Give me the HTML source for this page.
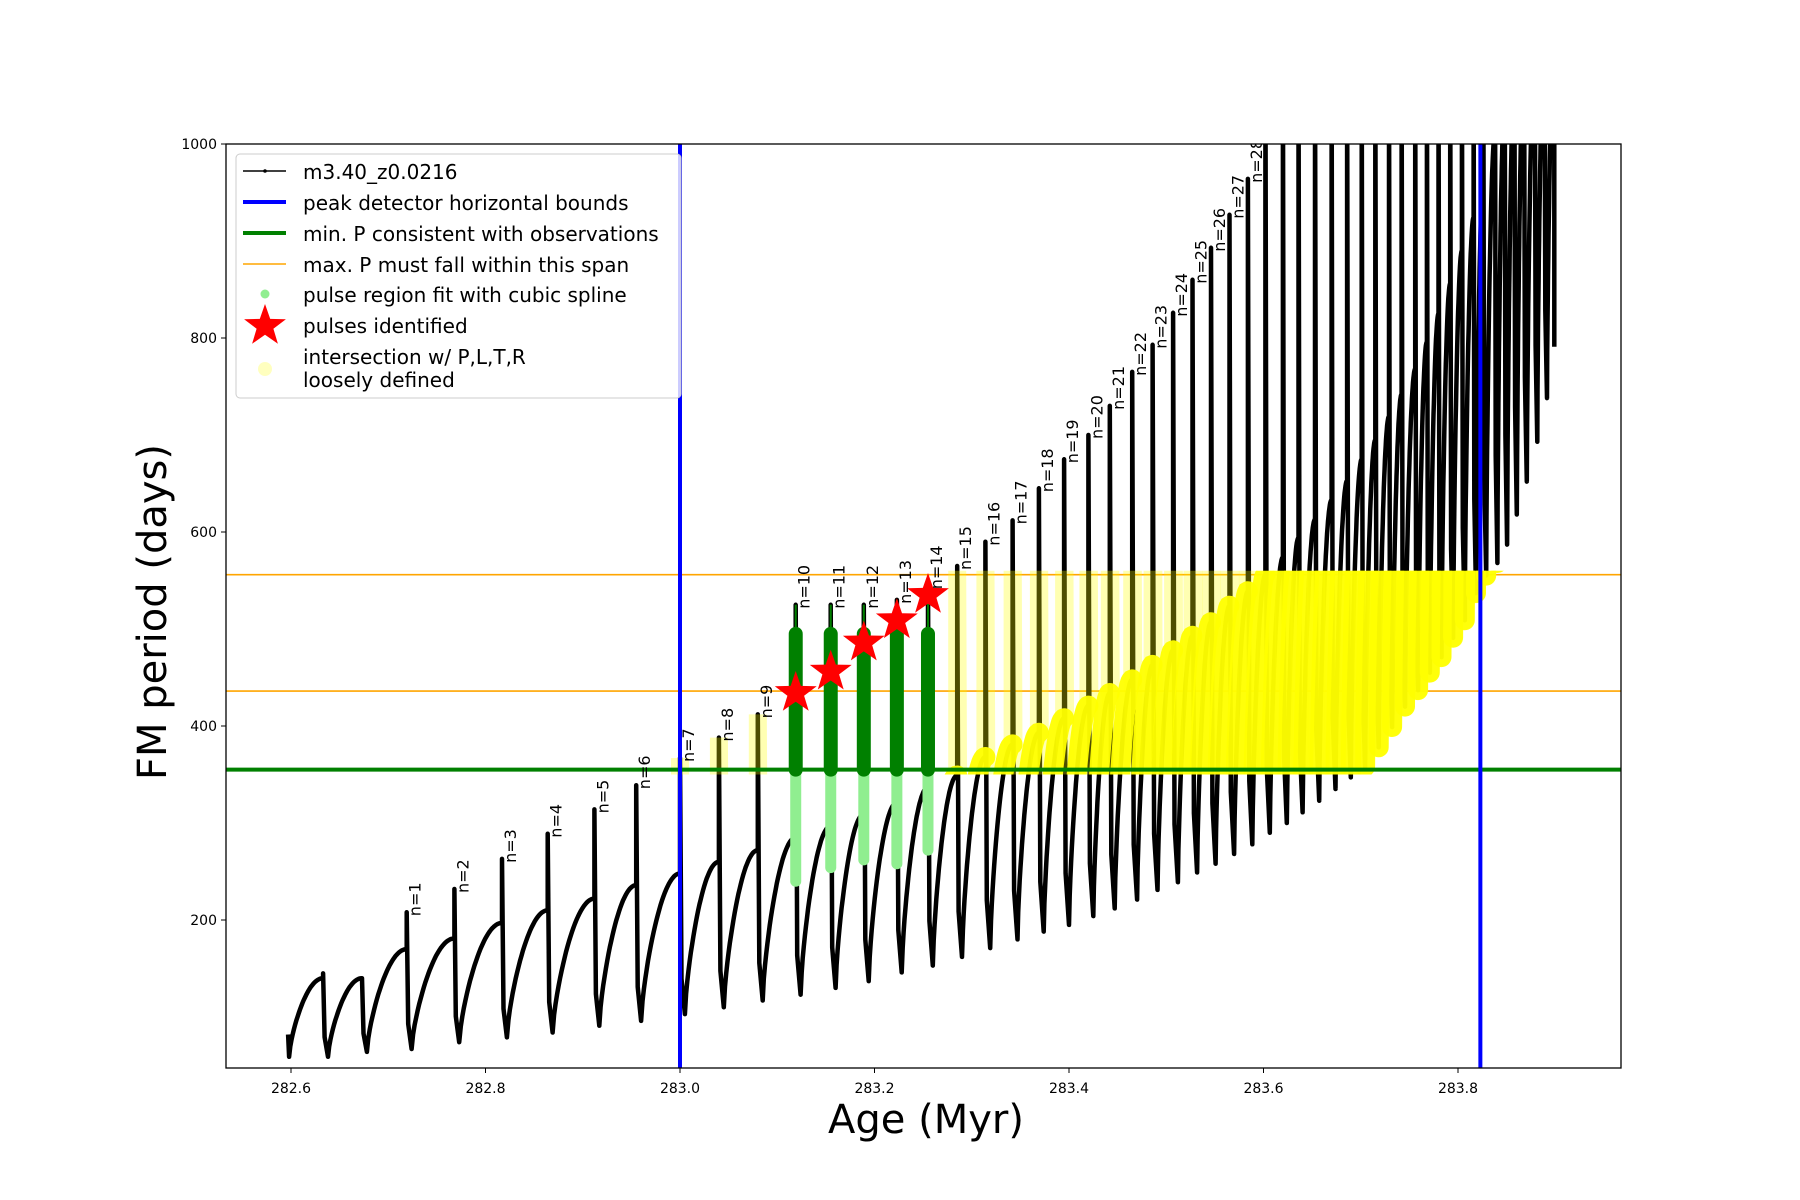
<!DOCTYPE html>
<html><head><meta charset="utf-8"><style>
html,body{margin:0;padding:0;background:#fff;}
svg{display:block;font-family:"DejaVu Sans","Liberation Sans",sans-serif;}
</style></head><body>
<svg id="chart" width="1800" height="1200" viewBox="0 0 1800 1200" xmlns="http://www.w3.org/2000/svg">
<defs>
<clipPath id="plotClip"><rect x="226" y="144" width="1395" height="924"/></clipPath>
<clipPath id="bandClip"><rect x="226" y="0" width="1395" height="1"/></clipPath>
</defs>
<rect x="0" y="0" width="1800" height="1200" fill="#fff"/>
<g id="plot" clip-path="url(#plotClip)"></g>
<rect x="226" y="144" width="1395" height="924" fill="none" stroke="#000" stroke-width="1.3"/>
<g id="ticks"></g>
<text x="926" y="1133" font-size="40" text-anchor="middle">Age (Myr)</text>
<text x="0" y="0" font-size="40" text-anchor="middle" transform="translate(166,612) rotate(-90)">FM period (days)</text>
<g id="legend">
<rect x="236" y="154" width="445" height="244" rx="4" fill="rgba(255,255,255,0.8)" stroke="#ccc" stroke-width="1"/>
<g><line x1="243" y1="171" x2="286" y2="171" stroke="#000" stroke-width="1.5"/><circle cx="265" cy="171" r="1.8" fill="#000"/><text x="303" y="179" font-size="20">m3.40_z0.0216</text></g>
<g><line x1="243" y1="202" x2="286" y2="202" stroke="#0000ff" stroke-width="4"/><text x="303" y="210" font-size="20">peak detector horizontal bounds</text></g>
<g><line x1="243" y1="233" x2="286" y2="233" stroke="#008000" stroke-width="4"/><text x="303" y="241" font-size="20">min. P consistent with observations</text></g>
<g><line x1="243" y1="264" x2="286" y2="264" stroke="#ffa500" stroke-width="1.5"/><text x="303" y="272" font-size="20">max. P must fall within this span</text></g>
<g><circle cx="265" cy="294" r="4.5" fill="#90ee90"/><text x="303" y="302" font-size="20">pulse region fit with cubic spline</text></g>
<g><polygon id="legStar" fill="#ff0000"/><text x="303" y="333" font-size="20">pulses identified</text></g>
<g><circle cx="265" cy="369" r="7" fill="#ffff00" opacity="0.25"/><text x="303" y="364" font-size="20">intersection w/ P,L,T,R</text><text x="303" y="387" font-size="20">loosely defined</text></g>
</g>
</svg>
<script>
// ---- data ----
const pulseAges = [282.633,282.673,282.719,282.768,282.817,282.864,282.912,282.955,283.000,283.040,283.080,283.119,283.155,283.189,283.223,283.255,283.285,283.314,283.342,283.369,283.395,283.420,283.442,283.465,283.486,283.507,283.527,283.546,283.565,283.584,283.602,283.620,283.636,283.653,283.670,283.686,283.701,283.715,283.729,283.742,283.756,283.768,283.780,283.792,283.804,283.816,283.826,283.838,283.848,283.858,283.868,283.879,283.889,283.899];
const arcTops = [140,140,170,181,197,210,222,236,248,260,272,285,297,309,321,337,349,368,381,393,408,421,434,448,463,478,493,507,524,539,556,574,594,613,633,653,675,695,719,742,768,796,825,856,890,924,962,1010,1040,1060,1080,1090,1100,1100];
const spikeTops = [145,140,208,232,263,289,314,339,367,388,412,525,525,525,530,545,565,590,612,645,675,700,730,765,793,826,860,893,927,964,1100,1100,1100,1100,1100,1100,1100,1100,1100,1100,1100,1100,1100,1100,1100,1100,1100,1100,1100,1100,1100,1100,1100,1100];
const troughs = [59,64,67,74,79,84,91,96,103,110,117,123,130,137,146,153,162,171,180,188,195,204,212,221,231,239,249,258,268,278,290,300,311,323,335,347,358,378,399,420,437,455,471,491,509,537,555,568,587,618,652,693,738,791];
const pulseLabels = ["","","n=1","n=2","n=3","n=4","n=5","n=6","n=7","n=8","n=9","n=10","n=11","n=12","n=13","n=14","n=15","n=16","n=17","n=18","n=19","n=20","n=21","n=22","n=23","n=24","n=25","n=26","n=27","n=28"];
const startAge = 282.597, startVals = [82, 59];
const starAges = [283.119,283.155,283.189,283.223,283.255];
const starValues = [434,456,486,509,535];
const greenLow = [240,254,262,258,272];
const greenTop = 495;
const minP = 355;
const maxPSpan = [436,556];
const boundAges = [283.000,283.823];
const xTicks = [282.6,282.8,283.0,283.2,283.4,283.6,283.8];
const xTickLabels = ["282.6","282.8","283.0","283.2","283.4","283.6","283.8"];
const yTicks = [200,400,600,800,1000];
const yTickLabels = ["200","400","600","800","1000"];

// ---- scales ----
const X = a => 291 + (a - 282.6) * 972.5;
const Y = v => 144 + (1000 - v) * 0.97;
const NS = "http://www.w3.org/2000/svg";
const plot = document.getElementById('plot');
const ticks = document.getElementById('ticks');
function mk(tag, attrs, parent){ const e=document.createElementNS(NS,tag); for(const k in attrs) e.setAttribute(k,attrs[k]); parent.appendChild(e); return e; }
function starPts(cx,cy,R){ const r=R*0.4; let p=[]; for(let i=0;i<10;i++){const ang=-Math.PI/2+i*Math.PI/5; const rr=i%2?r:R; p.push((cx+rr*Math.cos(ang)).toFixed(1)+','+(cy+rr*Math.sin(ang)).toFixed(1));} return p.join(' '); }
document.getElementById('legStar').setAttribute('points', starPts(265,326,22));

// build segments
const arcs = [], spikes = [];
let prevA = startAge + 0.001, prevV = startVals[1];
for (let i=0;i<pulseAges.length;i++){
  const a1 = pulseAges[i], v1 = arcTops[i];
  let d = '';
  const N = 28;
  for (let k=0;k<=N;k++){
    const u=k/N;
    const f=Math.pow(Math.sin(u*Math.PI/2),0.7);
    const a=prevA+(a1-prevA)*u, v=prevV+(v1-prevV)*f;
    d += (k?'L':'M')+X(a).toFixed(1)+','+Y(v).toFixed(1);
  }
  arcs.push(d);
  const next = i+1<pulseAges.length ? pulseAges[i+1] : a1+0.01;
  const off = Math.min(0.005, 0.25*(next-a1));
  const last = i===pulseAges.length-1;
  let s = 'M'+X(a1).toFixed(1)+','+Y(v1).toFixed(1)+'L'+X(a1).toFixed(1)+','+Y(spikeTops[i]).toFixed(1);
  if (last) { s += 'L'+X(a1).toFixed(1)+','+Y(troughs[i]).toFixed(1); }
  else { s += 'L'+X(a1+off*0.3).toFixed(1)+','+Y(troughs[i]+(v1-troughs[i])*0.25).toFixed(1)+'L'+X(a1+off).toFixed(1)+','+Y(troughs[i]).toFixed(1); }
  spikes.push(s);
  prevA = a1+off; prevV = troughs[i];
}

// orange span lines
maxPSpan.forEach((v,i)=>{
  const l=mk('line',{x1:226,x2:1621,y1:Y(v),y2:Y(v),stroke:'#ffa500','stroke-width':1.6},plot);
  
  
});

// black model curve
const startPath = 'M'+X(startAge).toFixed(1)+','+Y(startVals[0]).toFixed(1)+'L'+X(startAge+0.001).toFixed(1)+','+Y(startVals[1]).toFixed(1);
const blk = mk('path',{d:startPath+arcs.map((a,i)=>a.replace(/^M/,'L')+spikes[i].replace(/^M/,'L')).join(''),fill:'none',stroke:'#000','stroke-width':4.5,'stroke-linejoin':'round'},plot);



// yellow band overlays
const bandTop = Y(maxPSpan[1]+4), bandBot = Y(minP-5);
const bc = document.querySelector('#bandClip rect'); bc.setAttribute('y', bandTop); bc.setAttribute('height', bandBot-bandTop);
const yl = mk('g',{'clip-path':'url(#bandClip)'},plot);


for (let i=0;i<pulseAges.length;i++){
  const lab = i;
  if ((lab>=8 && lab<=10) || lab>=16){
    const p=mk('path',{d:spikes[i],fill:'none',stroke:'#ffff00','stroke-width':18,opacity:0.3,'stroke-linecap':'round'},yl);
    
    
  }
  if (lab>=16){
    const p=mk('path',{d:arcs[i],fill:'none',stroke:'#ffff00','stroke-width':20,opacity:0.95,'stroke-linecap':'round'},yl);
    
    
  }
}

// green pulse regions
starAges.forEach((a,i)=>{
  const x=X(a);
  const l1=mk('line',{x1:x,x2:x,y1:Y(greenLow[i]),y2:Y(minP),stroke:'#90ee90','stroke-width':11,'stroke-linecap':'round'},plot);
  
  
  const l2=mk('line',{x1:x,x2:x,y1:Y(minP),y2:Y(greenTop),stroke:'#008000','stroke-width':14,'stroke-linecap':'round'},plot);
  
  
  const l3=mk('line',{x1:x,x2:x,y1:Y(greenTop),y2:Y(spikeTops[11+i]),stroke:'#008000','stroke-width':2},plot);
  
  
});

// min P line
const gl=mk('line',{x1:226,x2:1621,y1:Y(minP),y2:Y(minP),stroke:'#008000','stroke-width':4},plot);



// stars
starAges.forEach((a,i)=>{
  const s=mk('polygon',{points:starPts(X(a),Y(starValues[i]),22),fill:'#ff0000'},plot);
  
  
});

// labels
pulseLabels.forEach((t,i)=>{
  if(!t) return;
  const x=X(pulseAges[i])+14, v=Math.min(spikeTops[i],990);
  const y=Y(v)+4;
  const tx=mk('text',{x:0,y:0,'font-size':16,transform:`translate(${x.toFixed(1)},${y.toFixed(1)}) rotate(-90)`},plot);
  tx.textContent=t;
  
  
});

// blue bounds
boundAges.forEach((a,i)=>{
  const l=mk('line',{x1:X(a),x2:X(a),y1:144,y2:1068,stroke:'#0000ff','stroke-width':4},plot);
  
  
});

// ticks
xTicks.forEach((a,i)=>{
  const x=X(a);
  const t=mk('line',{x1:x,x2:x,y1:1068,y2:1073,stroke:'#000','stroke-width':1},ticks);
  
  
  const tx=mk('text',{x:x,y:1093,'font-size':14,'text-anchor':'middle'},ticks);
  tx.textContent=xTickLabels[i];
  
  
});
yTicks.forEach((v,i)=>{
  const y=Y(v);
  const t=mk('line',{x1:221,x2:226,y1:y,y2:y,stroke:'#000','stroke-width':1},ticks);
  
  
  const tx=mk('text',{x:217,y:y+5,'font-size':14,'text-anchor':'end'},ticks);
  tx.textContent=yTickLabels[i];
  
  
});
</script>
</body></html>
